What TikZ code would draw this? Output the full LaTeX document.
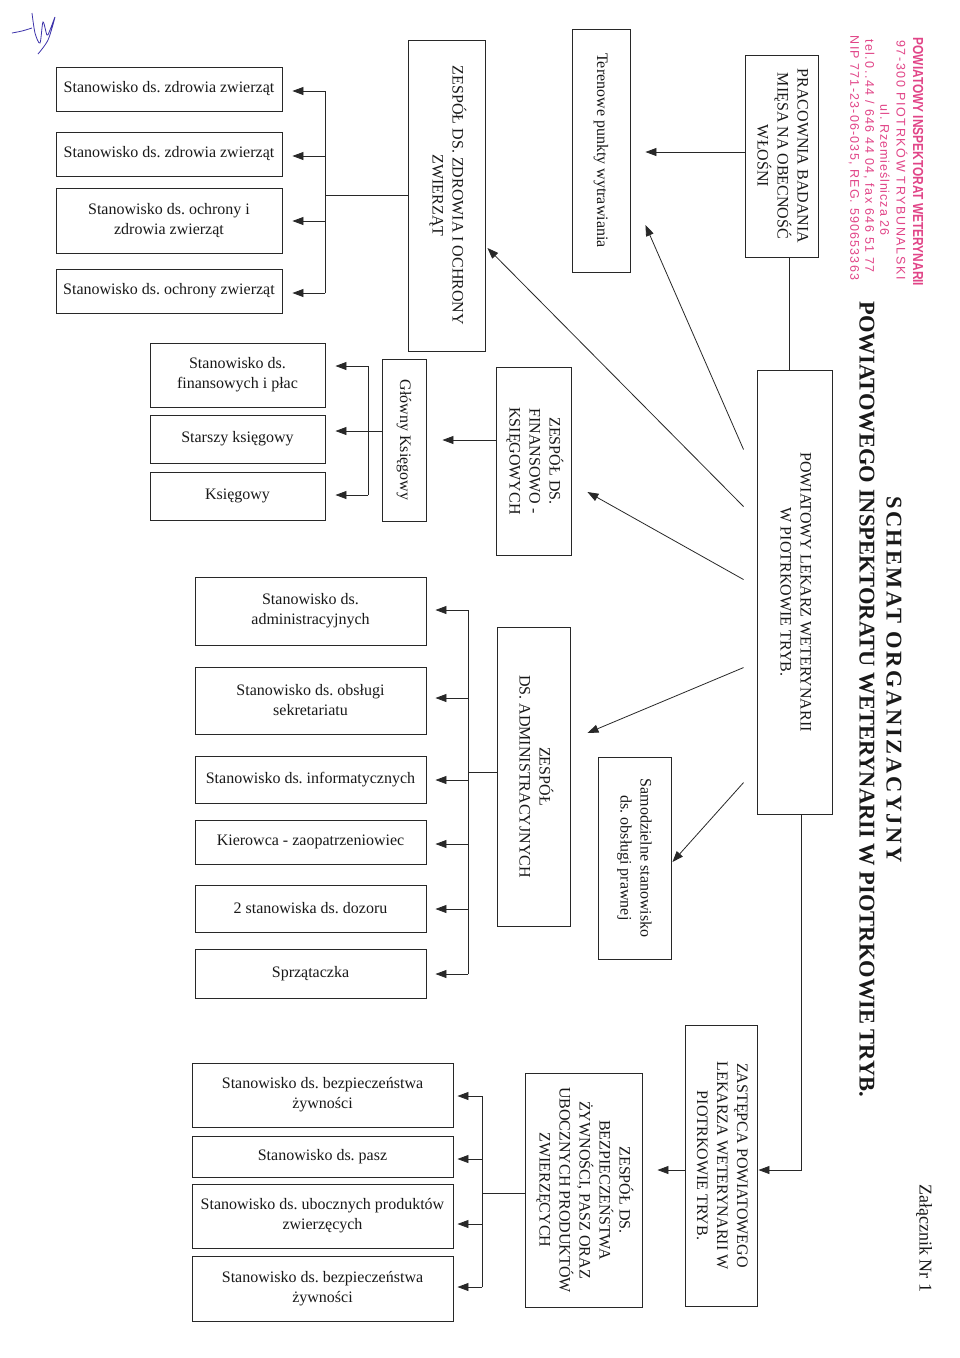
\documentclass[tikz,border=0pt]{standalone}
\usepackage{fontspec}
\setmainfont{Liberation Serif}
\newfontfamily\stampfont{Liberation Sans}
\newfontfamily\stampnarrow[FakeStretch=0.82]{Liberation Sans}
\usepackage{graphicx}
\usetikzlibrary{arrows.meta,calc}
\definecolor{stampc}{RGB}{225,68,135}
\definecolor{inkc}{RGB}{40,40,40}
\definecolor{sigc}{RGB}{60,50,170}
\newcommand{\vtxt}[1]{\rotatebox{-90}{\begin{tabular}{@{}c@{}}#1\end{tabular}}}
\frenchspacing

\begin{document}
\begin{tikzpicture}[x=1pt,y=-1pt,
 box/.style={draw=inkc, line width=0.9pt, inner sep=0pt, align=center, font=\fontsize{16}{20}\selectfont, text=black!90},
 sz/.style 2 args={minimum width=#1pt, minimum height=#2pt},
 ln/.style={draw=inkc, line width=0.8pt},
 arr/.style={ln, -{Triangle[length=11pt,width=8pt]}},
 vlab/.style={inner sep=0pt, rotate=-90, text=black!90},
 stamp/.style={inner sep=0pt, rotate=-90, text=stampc},
]
\useasboundingbox (0,0) rectangle (960,1358);
\fill[white] (0,0) rectangle (960,1358);

% signature
\draw[sigc, line width=0.8pt] plot[smooth] coordinates {(12,33) (22,31) (32,28)};
\draw[sigc, line width=0.8pt] plot[smooth] coordinates {(32,13) (35,33) (40,43) (43,22) (47,35) (50,30) (55,17) (48,40) (38,54)};

% stamp
\node[stamp, font=\stampnarrow\bfseries\fontsize{14.5}{14}\selectfont] (s1) at (918,162) {POWIATOWY INSPEKTORAT WETERYNARII};
\node[stamp, font=\stampfont\fontsize{12.5}{13}\selectfont\addfontfeature{LetterSpace=13}] (s2) at (902,160) {97-300 PIOTRKÓW TRYBUNALSKI};
\node[stamp, font=\stampfont\fontsize{12.5}{13}\selectfont\addfontfeature{LetterSpace=7.5}] (s3) at (885,170) {ul. Rzemieślnicza 26};
\node[stamp, font=\stampfont\fontsize{12.5}{13}\selectfont\addfontfeature{LetterSpace=12}] (s4) at (869,156) {tel.0..44 / 646 44 04, fax 646 51 77};
\node[stamp, font=\stampfont\fontsize{12.5}{13}\selectfont\addfontfeature{LetterSpace=9.5}] (s5) at (854,158) {NIP 771-23-06-035, REG. 590653363};

% titles
\node[vlab, font=\bfseries\fontsize{22.5}{27}\selectfont\addfontfeature{LetterSpace=11.5}] (title1) at (894,679.5) {SCHEMAT ORGANIZACYJNY};
\node[vlab, font=\bfseries\fontsize{22.5}{27}\selectfont] (title2) at (867,699.5) {POWIATOWEGO INSPEKTORATU WETERYNARII W PIOTRKOWIE TRYB.};
\node[vlab, font=\fontsize{18}{20}\selectfont] (zal) at (924,1238) {Załącznik Nr 1};

% top group
\node[box, sz={226}{44}] (A1) at (169,89) {Stanowisko ds. zdrowia zwierząt};
\node[box, sz={226}{44}] (A2) at (169,154) {Stanowisko ds. zdrowia zwierząt};
\node[box, sz={226}{65}] (A3) at (169,220.5) {Stanowisko ds. ochrony i\\zdrowia zwierząt};
\node[box, sz={226}{44}] (A4) at (169,291) {Stanowisko ds. ochrony zwierząt};
\node[box, sz={77}{311}] (Z) at (446.5,195.5) {\vtxt{ZESPÓŁ DS. ZDROWIA I OCHRONY\\ZWIERZĄT}};

\node[box, sz={58}{243}] (T) at (601,150.5) {\vtxt{Terenowe punkty wytrawiania}};
\node[box, sz={73}{202}] (P) at (781.5,156) {\vtxt{PRACOWNIA BADANIA\\MIĘSA NA OBECNOŚĆ\\WŁOŚNI}};
\node[box, sz={75}{444}] (L) at (794.5,592) {\vtxt{POWIATOWY LEKARZ WETERYNARII\\W PIOTRKOWIE TRYB.}};

% finance group
\node[box, sz={75}{188}] (F) at (533.5,461) {\vtxt{ZESPÓŁ DS.\\FINANSOWO -\\KSIĘGOWYCH}};
\node[box, sz={44}{162}] (GK) at (404,440) {\vtxt{Główny Księgowy}};
\node[box, sz={175}{64}] (F1) at (237.5,375) {Stanowisko ds.\\finansowych i płac};
\node[box, sz={175}{48}] (F2) at (237.5,439) {Starszy księgowy};
\node[box, sz={175}{48}] (F3) at (237.5,496) {Księgowy};

% admin group
\node[box, sz={73}{299}] (Ad) at (533.5,776.5) {\vtxt{ZESPÓŁ\\DS. ADMINISTRACYJNYCH}};
\node[box, sz={73}{202}] (S) at (634.5,858) {\vtxt{Samodzielne stanowisko\\ds. obsługi prawnej}};
\node[box, sz={231}{68}] (M1) at (310.5,611) {Stanowisko ds.\\administracyjnych};
\node[box, sz={231}{67}] (M2) at (310.5,700.5) {Stanowisko ds. obsługi\\sekretariatu};
\node[box, sz={231}{47}] (M3) at (310.5,779.5) {Stanowisko ds. informatycznych};
\node[box, sz={231}{44}] (M4) at (310.5,842) {Kierowca - zaopatrzeniowiec};
\node[box, sz={231}{47}] (M5) at (310.5,908.5) {2 stanowiska ds. dozoru};
\node[box, sz={231}{49}] (M6) at (310.5,973.5) {Sprzątaczka};

% deputy group
\node[box, sz={72}{281}] (ZA) at (721,1165.5) {\vtxt{ZASTĘPCA POWIATOWEGO\\LEKARZA WETERYNARII W\\PIOTRKOWIE TRYB.}};
\node[box, sz={117}{234}] (B) at (583.5,1190) {\vtxt{ZESPÓŁ DS.\\BEZPIECZEŃSTWA\\ŻYWNOŚCI, PASZ ORAZ\\UBOCZNYCH PRODUKTÓW\\ZWIERZĘCYCH}};
\node[box, sz={261}{64}] (N1) at (322.5,1095) {Stanowisko ds. bezpieczeństwa\\żywności};
\node[box, sz={261}{41}] (N2) at (322.5,1156.5) {Stanowisko ds. pasz};
\node[box, sz={261}{64}] (N3) at (322.5,1216) {Stanowisko ds. ubocznych produktów\\zwierzęcych};
\node[box, sz={261}{65}] (N4) at (322.5,1288.5) {Stanowisko ds. bezpieczeństwa\\żywności};

% connectors: zdrowia group
\coordinate (bz) at ($(A3.east)+(43,0)$);
\draw[ln] (Z.west) -- (bz |- Z.west);
\draw[ln] ($(A1.east)+(43,2)$) -- ($(A4.east)+(43,2)$);
\foreach \n/\dy in {A1/2, A2/2, A3/0.5, A4/2}
  \draw[arr] ($(\n.east)+(43,\dy)$) -- ($(\n.east)+(10,\dy)$);

% P -> T, P -> L
\draw[arr] ($(P.west)+(0,-4)$) -- ($(T.east)+(15,1.5)$);
\coordinate (pl) at ($(P.south)+(7.5,0)$);
\draw[ln] (pl) -- (pl |- L.north);

% diagonals from L
\coordinate (d1) at ($(L.north west)+(-13,80)$);
\coordinate (d2) at ($(L.north west)+(-13,137)$);
\coordinate (d3) at ($(L.north west)+(-13,210)$);
\coordinate (d4) at ($(L.north west)+(-13,298)$);
\coordinate (d5) at ($(L.north west)+(-13,413)$);
\draw[arr] (d1) -- ($(T.east)+(15,74.5)$);
\draw[arr] (d2) -- ($(Z.east)+(2,52.5)$);
\draw[arr] (d3) -- ($(F.east)+(16,31)$);
\draw[arr] (d4) -- ($(Ad.east)+(17,-43.5)$);
\draw[arr] (d5) -- ($(S.east)+(1,4)$);

% finance connectors
\draw[arr] ($(F.west)+(0,-21)$) -- ($(GK.east)+(16,0)$);
\draw[ln] ($(GK.west)+(0,-9)$) -- ($(F2.east)+(43,-8)$);
\draw[ln] ($(F1.east)+(43,-9)$) -- ($(F3.east)+(43,-1)$);
\foreach \n/\dy in {F1/-9, F2/-8, F3/-1}
  \draw[arr] ($(\n.east)+(43,\dy)$) -- ($(\n.east)+(10,\dy)$);

% admin connectors
\draw[ln] ($(Ad.west)+(0,-4.5)$) -- ($(M3.east)+(42,-7.5)$);
\draw[ln] ($(M1.east)+(42,-1)$) -- ($(M6.east)+(42,0.5)$);
\foreach \n/\dy in {M1/-1, M2/-2.5, M3/0.5, M4/2, M5/0.5, M6/0.5}
  \draw[arr] ($(\n.east)+(42,\dy)$) -- ($(\n.east)+(9,\dy)$);

% deputy connectors
\coordinate (lz) at ($(L.south)+(6.5,0)$);
\draw[arr] (lz) |- ($(ZA.east)+(1,4.5)$);
\draw[arr] ($(ZA.west)+(0,4.5)$) -- ($(B.east)+(15,-20)$);
\draw[ln] ($(B.west)+(0,3)$) -- ($(N2.east)+(29,36.5)$);
\draw[ln] ($(N1.east)+(29,1)$) -- ($(N4.east)+(29,-1.5)$);
\foreach \n/\dy in {N1/1, N2/2.5, N3/8, N4/-1.5}
  \draw[arr] ($(\n.east)+(29,\dy)$) -- ($(\n.east)+(4,\dy)$);
\end{tikzpicture}
\end{document}
